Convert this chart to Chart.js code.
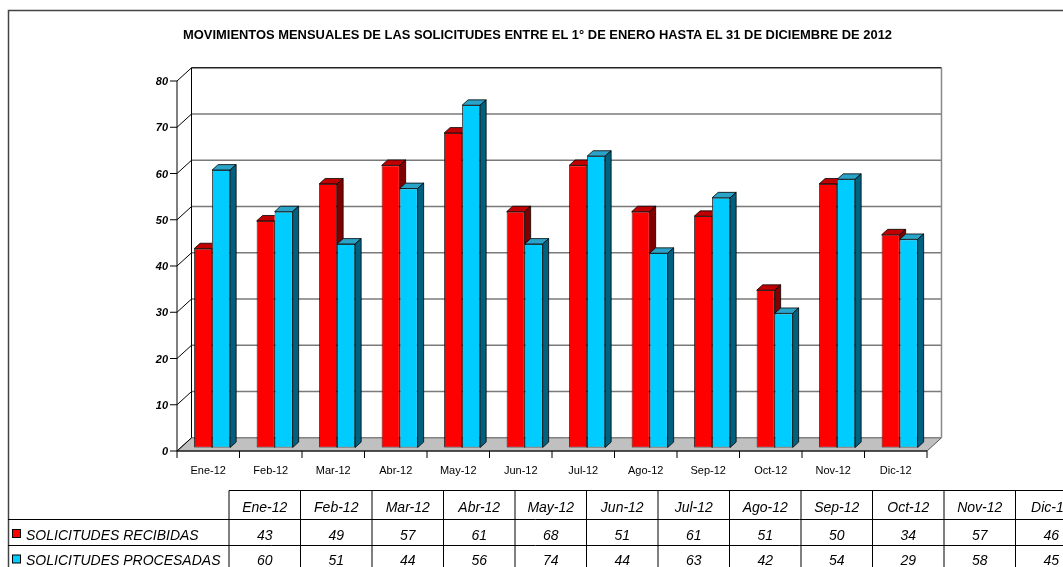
<!DOCTYPE html>
<html>
<head>
<meta charset="utf-8">
<script src="https://cdn.jsdelivr.net/npm/chart.js@4.4.0/dist/chart.umd.min.js"></script>
<style>
  html, body { margin: 0; padding: 0; background: #fff; }
  #wrap { width: 1063px; height: 567px; }
</style>
</head>
<body>
<div id="wrap"><canvas id="grafico"></canvas></div>
<script>
const titulo = 'MOVIMIENTOS MENSUALES DE LAS SOLICITUDES ENTRE EL 1° DE ENERO HASTA EL 31 DE DICIEMBRE DE 2012';
const meses = ['Ene-12', 'Feb-12', 'Mar-12', 'Abr-12', 'May-12', 'Jun-12', 'Jul-12', 'Ago-12', 'Sep-12', 'Oct-12', 'Nov-12', 'Dic-12'];
const recibidas = [43, 49, 57, 61, 68, 51, 61, 51, 50, 34, 57, 46];
const procesadas = [60, 51, 44, 56, 74, 44, 63, 42, 54, 29, 58, 45];
const ticksY = [0, 10, 20, 30, 40, 50, 60, 70, 80];
const nombres = ['SOLICITUDES RECIBIDAS', 'SOLICITUDES PROCESADAS'];

const FUENTE = '"Liberation Sans", Arial, sans-serif';
// profundidad del cuadro 3D
const DX = 14.5, DY = -13.2;
// posicion de las barras dentro de la profundidad
const TX = 3.9, TY = -3.5, BDX = 6, BDY = -5.4;
const caraColor = [
  { top: '#c00000', side: '#800000' },
  { top: '#2aa3c8', side: '#006080' }
];

function linea(ctx, x1, y1, x2, y2) {
  ctx.beginPath(); ctx.moveTo(x1, y1); ctx.lineTo(x2, y2); ctx.stroke();
}

function caras(ctx, p, col) {
  const l = p.x - p.width / 2, r = p.x + p.width / 2;
  ctx.fillStyle = col.top;
  ctx.beginPath();
  ctx.moveTo(l, p.y); ctx.lineTo(l + BDX, p.y + BDY); ctx.lineTo(r + BDX, p.y + BDY); ctx.lineTo(r, p.y); ctx.closePath();
  ctx.fill(); ctx.stroke();
  ctx.fillStyle = col.side;
  ctx.beginPath();
  ctx.moveTo(r, p.y); ctx.lineTo(r + BDX, p.y + BDY); ctx.lineTo(r + BDX, p.base + BDY); ctx.lineTo(r, p.base); ctx.closePath();
  ctx.fill(); ctx.stroke();
}

const fondo3d = {
  id: 'fondo3d',
  beforeDraw(chart) {
    const ctx = chart.ctx;
    const y = chart.scales.y, x = chart.scales.x;
    const L = chart.chartArea.left, R = chart.chartArea.right;
    const B = y.getPixelForValue(0), T = y.getPixelForValue(80);
    ctx.save();
    ctx.fillStyle = '#fff';
    ctx.fillRect(0, 0, chart.width, chart.height);

    // marco exterior
    ctx.strokeStyle = '#444'; ctx.lineWidth = 1.5;
    ctx.beginPath(); ctx.moveTo(8.5, 567); ctx.lineTo(8.5, 10.5); ctx.lineTo(1063, 10.5); ctx.stroke();

    // titulo
    ctx.fillStyle = '#000';
    ctx.font = 'bold 13px ' + FUENTE;
    ctx.textAlign = 'center'; ctx.textBaseline = 'alphabetic';
    const w = ctx.measureText(titulo).width;
    ctx.save();
    ctx.translate(537.5, 39);
    ctx.scale(709 / w, 1);
    ctx.fillText(titulo, 0, 0);
    ctx.restore();

    // piso
    ctx.fillStyle = '#c0c0c0';
    ctx.beginPath();
    ctx.moveTo(L, B); ctx.lineTo(R, B); ctx.lineTo(R + DX, B + DY); ctx.lineTo(L + DX, B + DY); ctx.closePath();
    ctx.fill();
    ctx.strokeStyle = '#555'; ctx.lineWidth = 1; ctx.stroke();

    // lineas de division en la pared del fondo
    ticksY.forEach(v => {
      const py = y.getPixelForValue(v);
      if (v > 0 && v < 80) {
        ctx.strokeStyle = '#7a7a7a'; ctx.lineWidth = 1.5;
        linea(ctx, L + DX, py + DY, R + DX, py + DY);
      }
      ctx.strokeStyle = '#000'; ctx.lineWidth = 1;
      linea(ctx, L, py, L + DX, py + DY);
      linea(ctx, L - 7, py, L, py);
    });
    ctx.strokeStyle = '#222'; ctx.lineWidth = 1.5;
    linea(ctx, L + DX, T + DY, R + DX, T + DY);
    ctx.strokeStyle = '#888';
    linea(ctx, R + DX, T + DY, R + DX, B + DY);
    ctx.strokeStyle = '#000'; ctx.lineWidth = 1;
    linea(ctx, L + DX, T + DY, L + DX, B + DY);
    linea(ctx, L, T, L, B);
    linea(ctx, L, B, R, B);

    // etiquetas eje Y
    ctx.fillStyle = '#000';
    ctx.font = 'bold italic 11px ' + FUENTE;
    ctx.textAlign = 'right';
    ticksY.forEach(v => {
      ctx.fillText(String(v), 168, y.getPixelForValue(v) + 4);
    });

    // marcas y etiquetas eje X
    const paso = (R - L) / meses.length;
    for (let i = 0; i <= meses.length; i++) {
      linea(ctx, L + i * paso, B, L + i * paso, B + 7);
    }
    ctx.font = '11px ' + FUENTE;
    ctx.textAlign = 'center';
    meses.forEach((m, i) => ctx.fillText(m, x.getPixelForValue(i), 474));
    ctx.restore();
  },
  beforeDatasetsDraw(chart) {
    chart.ctx.save();
    chart.ctx.translate(TX, TY);
  },
  afterDatasetsDraw(chart) {
    const ctx = chart.ctx;
    const rojo = chart.getDatasetMeta(0).data;
    const azul = chart.getDatasetMeta(1).data;
    ctx.strokeStyle = '#000'; ctx.lineWidth = 0.8;
    rojo.forEach((barR, i) => {
      const pr = barR.getProps(['x', 'y', 'base', 'width'], true);
      const pa = azul[i].getProps(['x', 'y', 'base', 'width'], true);
      // las caras rojas quedan ocultas detras del frente azul
      ctx.save();
      ctx.beginPath();
      ctx.rect(0, 0, chart.width, chart.height);
      ctx.rect(pa.x - pa.width / 2, pa.y, pa.width, pa.base - pa.y);
      ctx.clip('evenodd');
      caras(ctx, pr, caraColor[0]);
      ctx.restore();
      caras(ctx, pa, caraColor[1]);
    });
    ctx.restore();
  },
  afterDraw(chart) {
    const ctx = chart.ctx;
    ctx.save();
    const x0 = 229, ancho = 71.5, top = 490.5, f1 = 519.5, f2 = 545.5, fin = 567;
    ctx.strokeStyle = '#000'; ctx.lineWidth = 1;
    linea(ctx, x0, top, 1063, top);
    linea(ctx, 8, f1, 1063, f1);
    linea(ctx, 8, f2, 1063, f2);
    for (let i = 0; i <= meses.length; i++) {
      linea(ctx, x0 + i * ancho, top, x0 + i * ancho, fin);
    }
    ctx.fillStyle = '#000';
    ctx.font = 'italic 14px ' + FUENTE;
    ctx.textAlign = 'center';
    meses.forEach((m, i) => {
      const cx = x0 + (i + 0.5) * ancho;
      ctx.fillText(m, cx, 511.5);
      ctx.fillText(String(recibidas[i]), cx, 539.5);
      ctx.fillText(String(procesadas[i]), cx, 565);
    });
    // leyenda
    const colores = chart.data.datasets.map(d => d.backgroundColor);
    [539.5, 565].forEach((by, k) => {
      ctx.fillStyle = colores[k];
      ctx.fillRect(12.5, by - 10, 8, 8);
      ctx.strokeStyle = '#000';
      ctx.strokeRect(12.5, by - 10, 8, 8);
      ctx.fillStyle = '#000';
      ctx.textAlign = 'left';
      ctx.fillText(nombres[k], 26, by);
    });
    ctx.restore();
  }
};

new Chart(document.getElementById('grafico'), {
  type: 'bar',
  data: {
    labels: meses,
    datasets: [
      { label: nombres[0], data: recibidas, backgroundColor: '#ff0000', borderColor: '#000', borderWidth: 0.8, borderSkipped: false, clip: false },
      { label: nombres[1], data: procesadas, backgroundColor: '#00ccff', borderColor: '#000', borderWidth: 0.8, borderSkipped: false, clip: false }
    ]
  },
  options: {
    responsive: true,
    maintainAspectRatio: false,
    animation: false,
    layout: { padding: { left: 177, right: 136, top: 81, bottom: 116 } },
    datasets: { bar: { categoryPercentage: 0.576, barPercentage: 1 } },
    scales: {
      x: { display: false },
      y: { display: false, min: 0, max: 80 }
    },
    plugins: {
      legend: { display: false },
      tooltip: { enabled: false }
    }
  },
  plugins: [fondo3d]
});
</script>
</body>
</html>
